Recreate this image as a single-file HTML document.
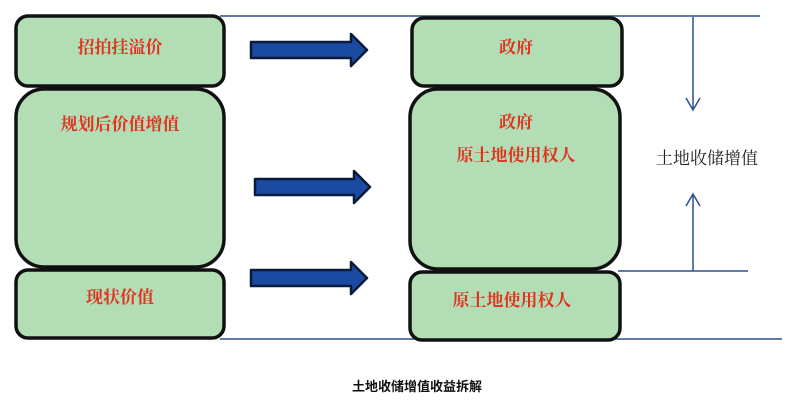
<!DOCTYPE html>
<html><head><meta charset="utf-8"><style>
html,body{margin:0;padding:0;background:#fff}
svg{display:block}
.r{font-family:"Liberation Serif","Noto Serif CJK SC",serif;font-size:17px;fill:#e0321e;text-anchor:middle;font-weight:bold}
</style></head><body>
<svg width="800" height="410" viewBox="0 0 800 410">
<g stroke="#2a4f8f" stroke-width="1.5" fill="none">
<line x1="220" y1="16" x2="760" y2="16"/>
<line x1="220" y1="339" x2="782" y2="339"/>
<line x1="618" y1="271" x2="748" y2="271"/>
<line x1="693" y1="17" x2="693" y2="108"/>
<polyline points="686,98 693,110 700,98"/>
<line x1="693" y1="196" x2="693" y2="271"/>
<polyline points="686,206 693,194 700,206"/>
</g>
<g fill="#b2ddb5" stroke="#111" stroke-width="3.5">
<rect x="16" y="16" width="208" height="70" rx="12"/>
<rect x="16" y="89" width="208" height="178" rx="28"/>
<rect x="16" y="270" width="208" height="68" rx="12"/>
<rect x="412" y="18" width="210" height="68" rx="12"/>
<rect x="410" y="89" width="210" height="180" rx="28"/>
<rect x="410" y="272" width="210" height="68" rx="12"/>
</g>
<g fill="#1b4aa2" stroke="#0a1a3a" stroke-width="2.5" stroke-linejoin="round">
<polygon points="251,42 351,42 351,34 367,50 351,66 351,58 251,58"/>
<polygon points="255,179 354,179 354,171 370,187 354,203 354,195 255,195"/>
<polygon points="251,270 351,270 351,262 367,278 351,294 351,286 251,286"/>
</g>
<text class="r" x="120" y="53">招拍挂溢价</text>
<text class="r" x="120" y="130">规划后价值增值</text>
<text class="r" x="120" y="303">现状价值</text>
<text class="r" x="516" y="53">政府</text>
<text class="r" x="516" y="128">政府</text>
<text class="r" x="516" y="161">原土地使用权人</text>
<text class="r" x="512" y="306">原土地使用权人</text>
<text x="707" y="164" text-anchor="middle" style="font-family:'Liberation Serif','Noto Serif CJK SC',serif;font-size:17px;fill:#222">土地收储增值</text>
<text x="417" y="391" text-anchor="middle" style="font-family:'Liberation Sans','Noto Sans CJK SC',sans-serif;font-size:13px;font-weight:bold;fill:#111">土地收储增值收益拆解</text>
</svg>
</body></html>
